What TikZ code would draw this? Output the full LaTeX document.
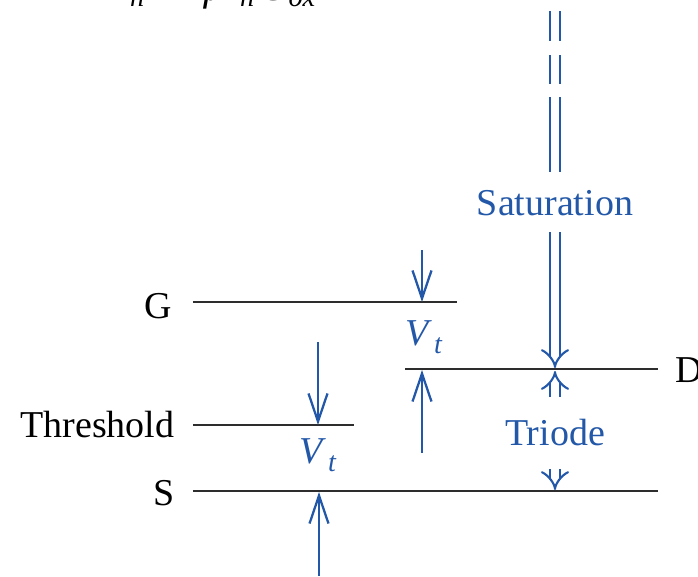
\documentclass[tikz,border=0pt]{standalone}
\usepackage{fontspec}
\setmainfont{Liberation Serif}
\usetikzlibrary{arrows.meta}

\definecolor{inkblue}{RGB}{35,88,168}
\definecolor{inkgray}{RGB}{45,45,45}
\newcommand{\Vtlabel}{\textit{V}\kern0.5pt\raisebox{-0.45ex}{\fontsize{8}{9}\selectfont\textit{t}}}

\tikzset{
  level/.style={draw=inkgray,line width=0.65pt},
  vtarrow/.style={draw=inkblue,line width=0.65pt,-{Straight Barb[length=2.8mm,width=1.9mm,line width=0.65pt]}},
  dblarrow/.style={draw=inkblue,line width=0.6pt,double,double distance=2.2pt,-{Implies}},
  dblline/.style={draw=inkblue,line width=0.6pt,double,double distance=2.2pt},
  lbl/.style={anchor=east,inner sep=0pt,text=black},
  bluetxt/.style={inner sep=0pt,text=inkblue}
}

\begin{document}
\begin{tikzpicture}[font=\fontsize{10.8}{13}\selectfont]
\useasboundingbox (0,0) rectangle (6.98,5.76);
\clip (0,0) rectangle (6.98,5.76);

% formula cut at the top edge
\node[anchor=base west,inner sep=0pt,font=\fontsize{11.5}{13}\selectfont] (kform) at (1.01,5.76)
  {\textit{k}$'$\textsubscript{\textit{n}}\kern5pt=\kern5pt\textit{μ}\kern4.5pt\textsubscript{\textit{n}}\kern1pt\textit{C}\kern0.5pt\textsubscript{\textit{ox}}};

% levels
\node[lbl] (G) at (1.73,2.70) {G};
\node[lbl] (T) at (1.75,1.51) {Threshold};
\node[lbl] (S) at (1.75,0.83) {S};
\node[anchor=west,inner sep=0pt] (D) at (6.75,2.06) {D};

\coordinate (gL) at (1.93,2.74);
\coordinate (gR) at (4.57,2.74);
\coordinate (tL) at (1.93,1.51);
\coordinate (tR) at (3.54,1.51);
\coordinate (sL) at (1.93,0.85);
\coordinate (sR) at (6.58,0.85);
\coordinate (dL) at (4.05,2.07);
\coordinate (dR) at (6.58,2.07);

\draw[level] (gL) -- (gR);
\draw[level] (tL) -- (tR);
\draw[level] (sL) -- (sR);
\draw[level] (dL) -- (dR);

% V_t between G and D
\node[bluetxt] (vtG) at (4.24,2.39) {\Vtlabel};
\coordinate (gtop) at (4.22,3.26);
\coordinate (gtip) at (4.22,2.74);
\coordinate (dbot) at (4.22,1.23);
\coordinate (dtip) at (4.22,2.06);
\draw[vtarrow] (gtop) -- (gtip);
\draw[vtarrow] (dbot) -- (dtip);

% V_t between threshold and S
\node[bluetxt] (vtS) at (3.18,1.21) {\Vtlabel};
\coordinate (ttop) at (3.18,2.34);
\coordinate (ttip) at (3.18,1.51);
\coordinate (sbot) at (3.19,0);
\coordinate (stip) at (3.19,0.84);
\draw[vtarrow] (ttop) -- (ttip);
\draw[vtarrow] (sbot) -- (stip);

% saturation
\foreach \ya/\yb in {5.65/5.35,5.21/4.92,4.79/4.04}
  \draw[dblline] (5.55,\ya) -- (5.55,\yb);
\node[bluetxt] (sat) at (5.55,3.73) {Saturation};
\coordinate (satend) at (5.55,2.08);
\draw[dblarrow] (5.55,3.44) -- (satend);

% triode
\node[bluetxt] (tri) at (5.55,1.43) {Triode};
\coordinate (triup) at (5.55,2.05);
\coordinate (tridn) at (5.55,0.86);
\draw[dblarrow] (5.55,1.79) -- (triup);
\draw[dblarrow] (5.55,1.07) -- (tridn);

\end{tikzpicture}
\end{document}
